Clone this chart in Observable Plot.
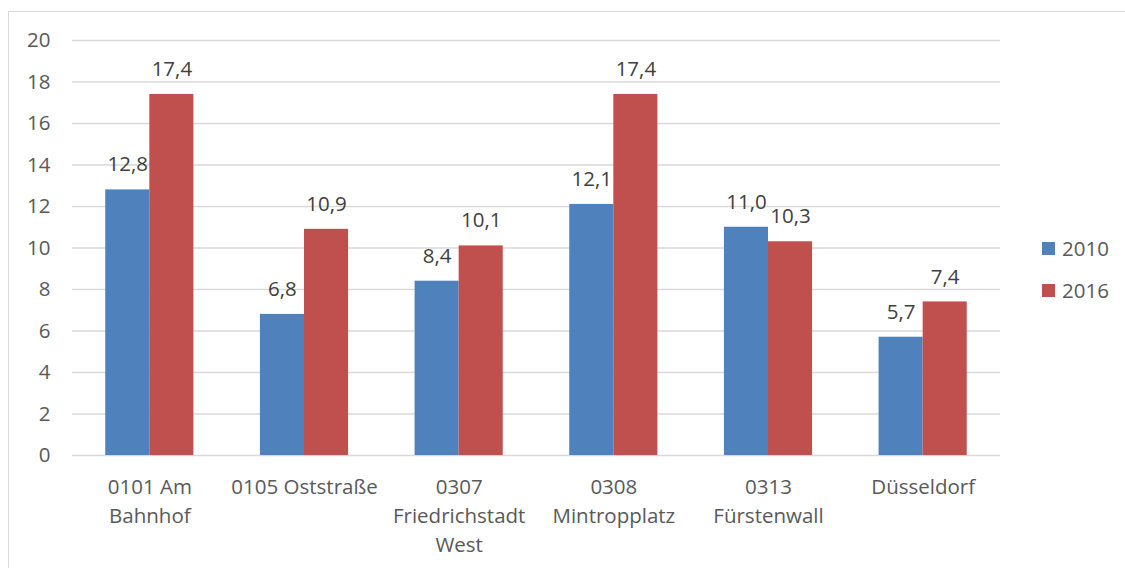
<!DOCTYPE html>
<html>
<head>
<meta charset="utf-8">
<script src="https://cdn.jsdelivr.net/npm/d3@7"></script>
<script src="https://cdn.jsdelivr.net/npm/@observablehq/plot@0.6"></script>
<style>
  body { margin: 0; background: #fff; }
  #wrap { position: relative; width: 1125px; height: 568px; overflow: hidden; font-family: "Open Sans", sans-serif; }
  #frame { position: absolute; left: 8px; top: 11px; width: 1200px; height: 700px; border-left: 1.5px solid #d9d9d9; border-top: 1.5px solid #d9d9d9; }
  #chart { position: absolute; left: 0; top: 0; }
  .leg { position: absolute; left: 1042px; display: flex; align-items: center; font-size: 20.5px; color: #595959; }
  .leg span.sw { display: inline-block; width: 13px; height: 13px; margin-right: 7px; }
</style>
</head>
<body>
<div id="wrap">
  <div id="frame"></div>
  <div id="chart"></div>
</div>
<script>
const categories = ["0101 Am\nBahnhof", "0105 Oststraße", "0307\nFriedrichstadt\nWest", "0308\nMintropplatz", "0313\nFürstenwall", "Düsseldorf"];
const series = ["2010", "2016"];
const values2010 = [12.8, 6.8, 8.4, 12.1, 11.0, 5.7];
const values2016 = [17.4, 10.9, 10.1, 17.4, 10.3, 7.4];
const yTicks = [0, 2, 4, 6, 8, 10, 12, 14, 16, 18, 20];
const colors = ["#4F81BD", "#C0504D"];

const W = 1125, H = 568, mL = 72, mR = 125, mT = 40, mB = 113;
const padI = 0.43;
const step = (W - mL - mR) / categories.length;
const half = step * (1 - padI) / 2;
const FS = 20.5;

const d10 = categories.map((c, i) => ({cat: c, v: values2010[i]}));
const d16 = categories.map((c, i) => ({cat: c, v: values2016[i]}));
const fmt = v => v.toFixed(1).replace(".", ",");

const plot = Plot.plot({
  width: W, height: H,
  marginLeft: mL, marginRight: mR, marginTop: mT, marginBottom: mB,
  style: {fontFamily: "Open Sans, sans-serif", fontSize: FS + "px", color: "#595959", background: "transparent"},
  x: {domain: categories, paddingInner: padI, paddingOuter: padI / 2, round: false, label: null},
  y: {domain: [0, 20], label: null},
  marks: [
    Plot.ruleY(yTicks, {stroke: "#d9d9d9", strokeWidth: 1.3}),
    Plot.barY(d10, {x: "cat", y: "v", fill: colors[0], insetRight: half}),
    Plot.barY(d16, {x: "cat", y: "v", fill: colors[1], insetLeft: half}),
    Plot.text(d10, {x: "cat", y: "v", text: d => fmt(d.v), dx: -half / 2, dy: -25, fill: "#404040", fontSize: FS}),
    Plot.text(d16, {x: "cat", y: "v", text: d => fmt(d.v), dx: half / 2, dy: -25, fill: "#404040", fontSize: FS}),
    Plot.axisY({ticks: yTicks, tickSize: 0, tickPadding: 22, tickFormat: d => String(d), fontSize: FS, fill: "#595959"}),
    Plot.axisX({tickSize: 0, tickPadding: 18, fontSize: FS, lineHeight: 1.42, fill: "#595959", textAnchor: "middle"})
  ]
});
document.getElementById("chart").appendChild(plot);

const wrap = document.getElementById("wrap");
series.forEach((s, i) => {
  const d = document.createElement("div");
  d.className = "leg";
  d.style.top = (234 + i * 42) + "px";
  d.innerHTML = `<span class="sw" style="background:${colors[i]}"></span><span>${s}</span>`;
  wrap.appendChild(d);
});
</script>
</body>
</html>
